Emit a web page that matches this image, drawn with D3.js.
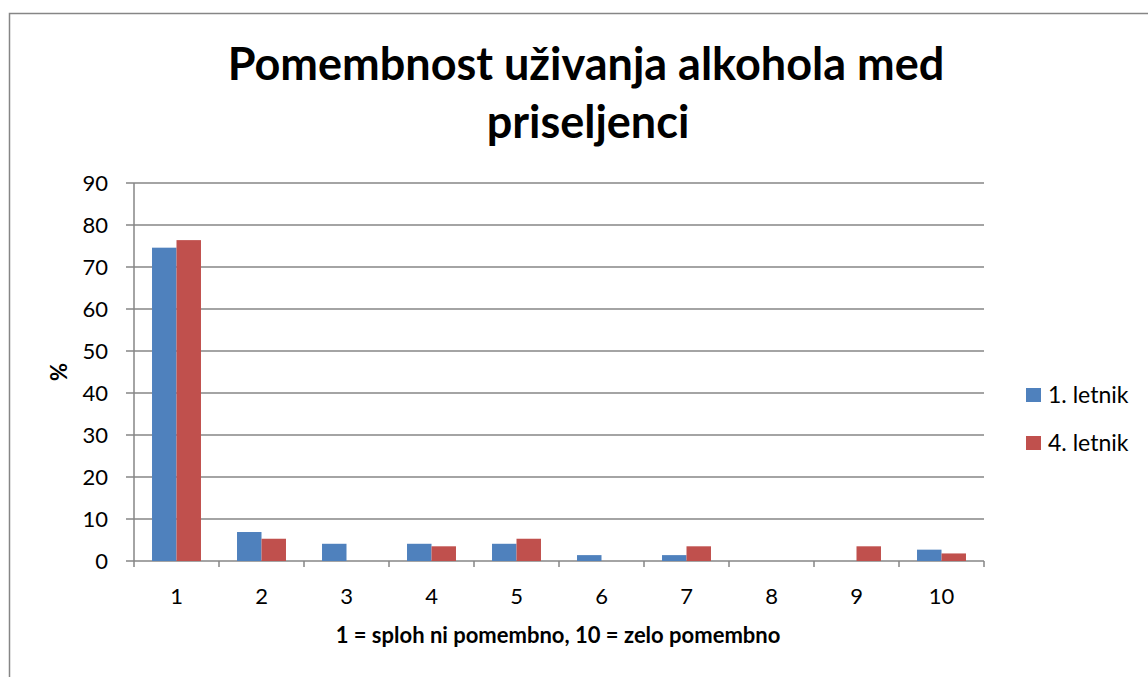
<!DOCTYPE html>
<html>
<head>
<meta charset="utf-8">
<script src="https://cdn.jsdelivr.net/npm/d3@7"></script>
<style>
  body { margin: 0; background: #fff; }
  text { font-family: Lato, "Open Sans", sans-serif; fill: #000; }
</style>
</head>
<body>
<div id="chart"></div>
<script>
/* DATA */
const categories = ["1", "2", "3", "4", "5", "6", "7", "8", "9", "10"];
const seriesNames = ["1. letnik", "4. letnik"];
const letnik1 = [74.6, 6.9, 4.1, 4.1, 4.1, 1.4, 1.4, 0, 0, 2.7];
const letnik4 = [76.4, 5.3, 0, 3.5, 5.3, 0, 3.5, 0, 3.5, 1.8];
const yTicks = [0, 10, 20, 30, 40, 50, 60, 70, 80, 90];
const colors = ["#4f81bd", "#c0504d"];

/* CONSTANTS */
const width = 1148, height = 677;
const plot = { left: 134, right: 984, top: 183, bottom: 561 };

const svg = d3.select("#chart").append("svg")
  .attr("width", width)
  .attr("height", height);

// outer chart frame (right and bottom edges fall outside the picture)
svg.append("rect")
  .attr("x", 9.5).attr("y", 13.5)
  .attr("width", width + 20).attr("height", height + 20)
  .attr("fill", "#fff")
  .attr("stroke", "#868686")
  .attr("stroke-width", 1.5);

// + SCALES
const xScale = d3.scaleBand()
  .domain(categories)
  .range([plot.left, plot.right])
  .paddingInner(0.424)
  .paddingOuter(0.212);

const xSub = d3.scaleBand()
  .domain(seriesNames)
  .range([0, xScale.bandwidth()]);

const yScale = d3.scaleLinear()
  .domain([0, 90])
  .range([plot.bottom, plot.top]);

// + GRIDLINES
svg.append("g")
  .selectAll("line")
  .data(yTicks)
  .join("line")
  .attr("x1", plot.left - 8)
  .attr("x2", plot.right)
  .attr("y1", d => yScale(d))
  .attr("y2", d => yScale(d))
  .attr("stroke", "#868686")
  .attr("stroke-width", 1.5);

// + BARS
const rows = categories.map((c, i) => ({ cat: c, values: [letnik1[i], letnik4[i]] }));

svg.append("g")
  .selectAll("g")
  .data(rows)
  .join("g")
  .attr("transform", d => `translate(${xScale(d.cat)},0)`)
  .selectAll("rect")
  .data(d => d.values.map((v, j) => ({ name: seriesNames[j], v, j })))
  .join("rect")
  .attr("x", d => xSub(d.name))
  .attr("width", xSub.bandwidth())
  .attr("y", d => yScale(d.v))
  .attr("height", d => yScale(0) - yScale(d.v))
  .attr("fill", d => colors[d.j]);

// + AXES
const yAxis = d3.axisLeft(yScale).tickValues(yTicks).tickSize(0).tickPadding(26);
const gy = svg.append("g")
  .attr("transform", `translate(${plot.left},0)`)
  .call(yAxis);
gy.select(".domain").remove();
gy.selectAll("text").attr("font-size", 22).attr("font-family", "Lato, sans-serif");

svg.append("line")
  .attr("x1", plot.left).attr("x2", plot.left)
  .attr("y1", plot.top).attr("y2", plot.bottom)
  .attr("stroke", "#868686").attr("stroke-width", 1.5);

// category ticks on the bottom axis
const catStep = xScale.step();
svg.append("g")
  .selectAll("line")
  .data(d3.range(categories.length + 1))
  .join("line")
  .attr("x1", d => plot.left + d * catStep)
  .attr("x2", d => plot.left + d * catStep)
  .attr("y1", plot.bottom)
  .attr("y2", plot.bottom + 6)
  .attr("stroke", "#868686").attr("stroke-width", 1.5);

const xAxis = d3.axisBottom(xScale).tickSize(0).tickPadding(27);
const gx = svg.append("g")
  .attr("transform", `translate(0,${plot.bottom})`)
  .call(xAxis);
gx.select(".domain").remove();
gx.selectAll("text").attr("font-size", 22).attr("font-family", "Lato, sans-serif");

// + TITLE
const title = svg.append("text")
  .attr("text-anchor", "middle")
  .attr("font-size", 45)
  .attr("font-weight", "bold");
title.append("tspan").attr("x", 586).attr("y", 80).text("Pomembnost uživanja alkohola med");
title.append("tspan").attr("x", 588).attr("y", 138).text("priseljenci");

// + AXIS LABELS
svg.append("text")
  .attr("x", 558).attr("y", 643)
  .attr("text-anchor", "middle")
  .attr("font-size", 22)
  .attr("font-weight", "bold")
  .text("1 = sploh ni pomembno, 10 = zelo pomembno");

svg.append("text")
  .attr("transform", "translate(67,372) rotate(-90)")
  .attr("text-anchor", "middle")
  .attr("font-size", 22)
  .attr("font-weight", "bold")
  .text("%");

// + LEGEND
const legend = svg.append("g")
  .selectAll("g")
  .data(seriesNames)
  .join("g")
  .attr("transform", (d, i) => `translate(1026,${388 + i * 48})`);

legend.append("rect")
  .attr("width", 15).attr("height", 14)
  .attr("fill", (d, i) => colors[i]);

legend.append("text")
  .attr("x", 22).attr("y", 15)
  .attr("font-size", 23)
  .text(d => d);
</script>
</body>
</html>
